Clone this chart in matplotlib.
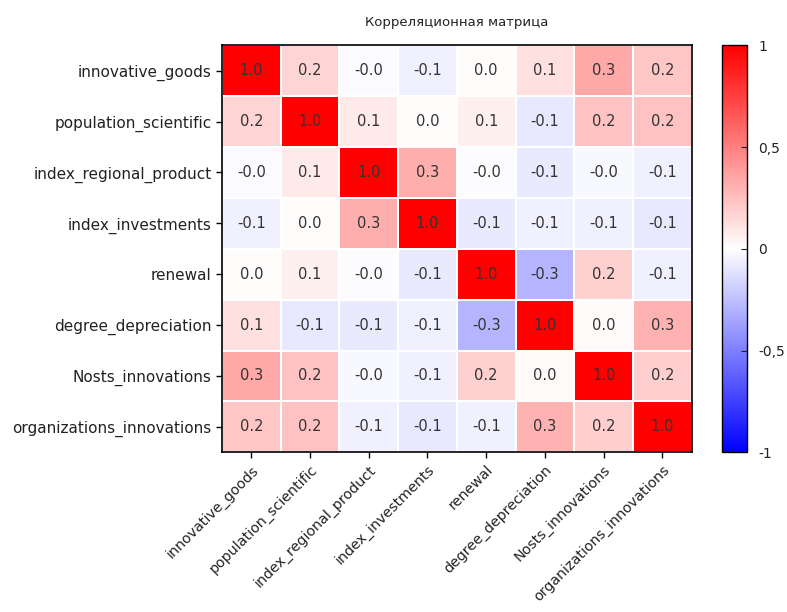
import numpy as np
import matplotlib
matplotlib.use("Agg")
import matplotlib.pyplot as plt

labels = ["innovative_goods", "population_scientific", "index_regional_product",
          "index_investments", "renewal", "degree_depreciation",
          "Nosts_innovations", "organizations_innovations"]

corr = np.array([
    [1.00, 0.17, -0.02, -0.06, 0.01, 0.12, 0.34, 0.22],
    [0.17, 1.00, 0.08, 0.01, 0.06, -0.09, 0.24, 0.24],
    [-0.02, 0.08, 1.00, 0.32, -0.01, -0.08, -0.03, -0.06],
    [-0.06, 0.01, 0.32, 1.00, -0.08, -0.06, -0.06, -0.09],
    [0.01, 0.06, -0.01, -0.08, 1.00, -0.29, 0.18, -0.06],
    [0.12, -0.09, -0.08, -0.06, -0.29, 1.00, 0.02, 0.30],
    [0.34, 0.24, -0.03, -0.06, 0.18, 0.02, 1.00, 0.19],
    [0.22, 0.24, -0.06, -0.09, -0.06, 0.30, 0.19, 1.00],
])

cbar_ticks = [-1, -0.5, 0, 0.5, 1]
cbar_labels = ["-1", "-0,5", "0", "0,5", "1"]

fig = plt.figure(figsize=(7.87, 6.12), dpi=100)
ax = fig.add_axes([0.282, 0.261, 0.597, 0.665])
cax = fig.add_axes([0.917, 0.261, 0.032, 0.665])

n = len(labels)
mesh = ax.pcolormesh(np.arange(n + 1), np.arange(n + 1), corr, cmap="bwr",
                     vmin=-1, vmax=1, edgecolor="white", linewidth=1.2)
ax.set_xlim(0, n)
ax.set_ylim(n, 0)
for i in range(n):
    for j in range(n):
        ax.text(j + 0.5, i + 0.5, f"{corr[i, j]:.1f}", ha="center", va="center",
                fontsize=10.5, color="#333333")

ax.set_xticks(np.arange(n) + 0.5)
ax.set_yticks(np.arange(n) + 0.5)
ax.set_xticklabels(labels, rotation=45, ha="right", rotation_mode="anchor",
                   fontsize=10.3, color="#222222")
ax.set_yticklabels(labels, fontsize=11, color="#222222")
ax.tick_params(length=4, width=1)
for s in ax.spines.values():
    s.set_linewidth(1.2)
ax.set_title("Корреляционная матрица", fontsize=9.5, pad=14, color="#222222")

cb = fig.colorbar(mesh, cax=cax)
cb.set_ticks(cbar_ticks)
cb.set_ticklabels(cbar_labels)
cb.ax.tick_params(labelsize=10, length=4, direction="in", pad=8, colors="#222222")
cb.outline.set_linewidth(1)

fig.savefig("out.png", dpi=100)
